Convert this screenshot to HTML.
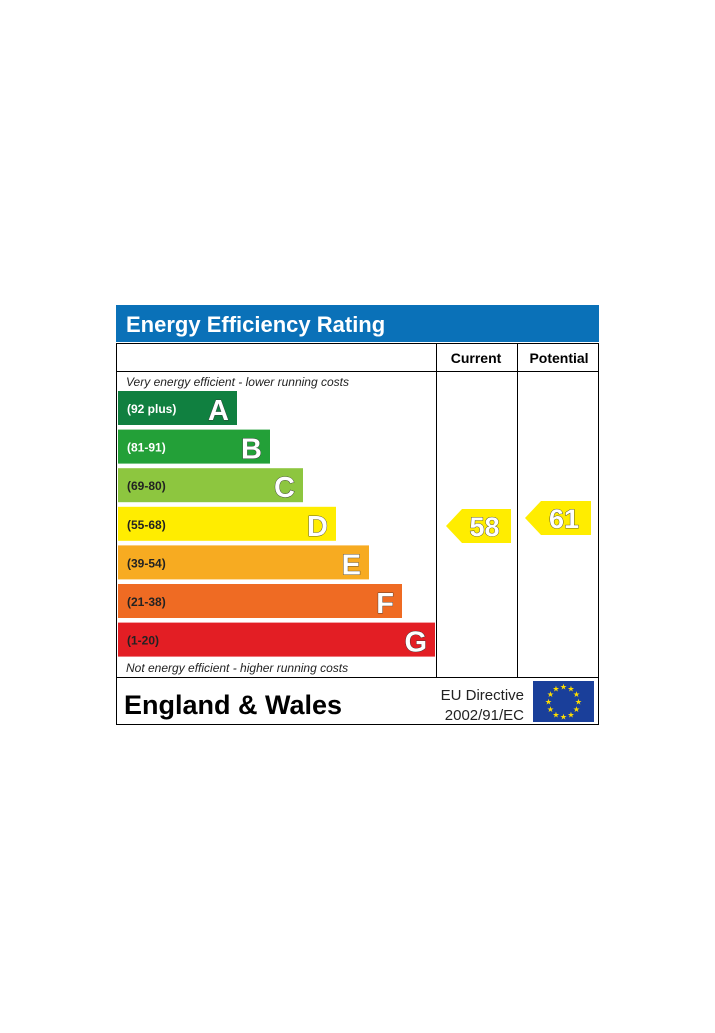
<!DOCTYPE html>
<html><head><meta charset="utf-8"><style>
html,body{margin:0;padding:0;background:#fff;width:715px;height:1033px;overflow:hidden}
svg{display:block;font-family:"Liberation Sans",Arial,sans-serif}
</style></head><body>
<svg id="chart" width="715" height="1033" viewBox="0 0 715 1033">
<rect x="116" y="305" width="483" height="37" fill="#0a71b8"/>
<text x="126" y="332" font-size="22" font-weight="bold" fill="#fff">Energy Efficiency Rating</text>
<rect x="116.5" y="343.5" width="482" height="381" fill="none" stroke="#000" stroke-width="1"/>
<line x1="116" y1="371.5" x2="598" y2="371.5" stroke="#000"/>
<line x1="116" y1="677.5" x2="598" y2="677.5" stroke="#000"/>
<line x1="436.5" y1="343" x2="436.5" y2="677" stroke="#000"/>
<line x1="517.5" y1="343" x2="517.5" y2="677" stroke="#000"/>
<text x="476" y="363" font-size="14" font-weight="bold" text-anchor="middle">Current</text>
<text x="559" y="363" font-size="14" font-weight="bold" text-anchor="middle">Potential</text>
<text x="126" y="386" font-size="12" font-style="italic" fill="#222">Very energy efficient - lower running costs</text>
<text x="126" y="672" font-size="12" font-style="italic" fill="#222">Not energy efficient - higher running costs</text>
<text x="124" y="714" font-size="27" font-weight="bold">England &amp; Wales</text>
<text x="524" y="700" font-size="15" text-anchor="end" fill="#222">EU Directive</text>
<text x="524" y="720" font-size="15" text-anchor="end" fill="#222">2002/91/EC</text>
<rect x="533" y="681" width="61" height="41" fill="#1a3f9a"/>
<g id="stars"></g>
<g id="bands"></g>
<g id="arrows"></g>
</svg>
<script>
const letters = ["A","B","C","D","E","F","G"];
const ranges = ["(92 plus)","(81-91)","(69-80)","(55-68)","(39-54)","(21-38)","(1-20)"];
const colors = ["#108040","#23a038","#8dc63f","#ffed00","#f7ab21","#ef6b23","#e31e24"];
const currentValue = 58;
const potentialValue = 61;
const currentLabel = "58";
const potentialLabel = "61";

const NS = "http://www.w3.org/2000/svg";
function mk(tag, attrs){const e=document.createElementNS(NS,tag);for(const k in attrs)e.setAttribute(k,attrs[k]);return e;}
// band scale
const bandTop = i => 391 + i*38.6;
const bandH = 34;
const bandRight = i => 237 + i*33;
// value -> vertical centre
const yOf = v => 526 - (v-58)*2.67;

const bg = document.getElementById('bands');
letters.forEach((L,i)=>{
  const y = bandTop(i);
  const r = mk('rect',{x:118,y:y,width:bandRight(i)-118,height:bandH,fill:colors[i]});
  
  
  bg.appendChild(r);
  const t = mk('text',{x:127,y:y+22,'font-size':12,'font-weight':'bold',fill:(i<2?'#fff':'#222')});
  t.textContent = ranges[i];
  
  
  bg.appendChild(t);
  const l = mk('text',{x:bandRight(i)-8,y:y+29,'font-size':29,'font-weight':'bold','text-anchor':'end',fill:'#fff',stroke:'#333','stroke-width':0.8,'paint-order':'stroke'});
  l.textContent = L;
  
  
  bg.appendChild(l);
});

const ag = document.getElementById('arrows');
function arrow(value,label,tipX,rightX,name){
  const c = yOf(value), h=34;
  const p = mk('polygon',{points:`${tipX},${c} ${tipX+16},${c-h/2} ${rightX},${c-h/2} ${rightX},${c+h/2} ${tipX+16},${c+h/2}`,fill:'#ffed00'});
  
  
  ag.appendChild(p);
  const t = mk('text',{x:(tipX+rightX)/2+6,y:c+10,'font-size':27,'font-weight':'bold','text-anchor':'middle',fill:'#fff',stroke:'#333','stroke-width':0.8,'paint-order':'stroke'});
  t.textContent = label;
  
  
  ag.appendChild(t);
}
arrow(currentValue,currentLabel,446,511,'current');
arrow(potentialValue,potentialLabel,525,591,'potential');

const sg = document.getElementById('stars');
for(let k=0;k<12;k++){
  const a = k*Math.PI/6;
  const s = mk('text',{x:563.5+15*Math.sin(a),y:701.5-15*Math.cos(a)+3,'font-size':8,fill:'#ffdd00','text-anchor':'middle'});
  s.textContent='★';
  
  
  sg.appendChild(s);
}
</script>
</body></html>
